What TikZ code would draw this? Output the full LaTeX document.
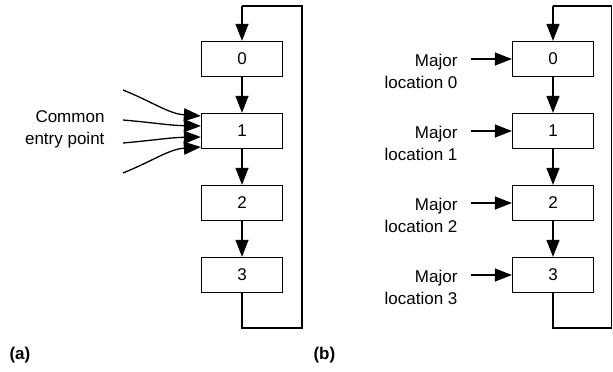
\documentclass[tikz,border=0pt]{standalone}
\usepackage{fontspec}
\setmainfont{Liberation Sans}
\usetikzlibrary{arrows.meta}
\begin{document}
\begin{tikzpicture}[x=1pt,y=1pt,
  every node/.style={font=\fontsize{17}{22}\selectfont},
  stage/.style={draw,line width=1.3pt,minimum width=81pt,minimum height=35pt,inner sep=0pt},
  flow/.style={line width=1.3pt,arrows={-Triangle[length=17pt,width=13pt]}},
  plain/.style={line width=1.3pt},
  caption/.style={font=\fontsize{17}{22}\selectfont\bfseries,anchor=west}]
\useasboundingbox (0,0) rectangle (613,372);

% ---------- (a) ----------
\node[stage] (a0) at (242,313) {0};
\node[stage] (a1) at (242,241) {1};
\node[stage] (a2) at (242,169) {2};
\node[stage] (a3) at (242,97) {3};
\draw[flow] (a0) -- (a1);
\draw[flow] (a1) -- (a2);
\draw[flow] (a2) -- (a3);
\coordinate (aBot) at (242,44);
\coordinate (aTop) at (242,366);
\draw[plain] (a3.south) -- (aBot) -- (302,44) -- (302,366) -- (aTop);
\draw[flow] (aTop) -- (a0.north);

\node[align=right,anchor=east] (entry) at (108,243) {Common\\entry point};
\coordinate (e1) at (123,282);
\coordinate (e2) at (123,252);
\coordinate (e3) at (123,229);
\coordinate (e4) at (123,199);
\draw[flow] (e1) to[out=-22,in=176] ([yshift=15pt]a1.west);
\draw[flow] (e2) to[out=-5,in=179] ([yshift=5pt]a1.west);
\draw[flow] (e3) to[out=5,in=181] ([yshift=-6pt]a1.west);
\draw[flow] (e4) to[out=22,in=184] ([yshift=-16pt]a1.west);

\node[caption] (capa) at (6,17) {(a)};

% ---------- (b) ----------
\node[stage] (b0) at (553,313) {0};
\node[stage] (b1) at (553,241) {1};
\node[stage] (b2) at (553,169) {2};
\node[stage] (b3) at (553,97) {3};
\draw[flow] (b0) -- (b1);
\draw[flow] (b1) -- (b2);
\draw[flow] (b2) -- (b3);
\coordinate (bBot) at (553,44);
\coordinate (bTop) at (553,366);
\draw[plain] (b3.south) -- (bBot) -- (611.7,44) -- (611.7,366) -- (bTop);
\draw[flow] (bTop) -- (b0.north);

\foreach \i/\y in {0/313,1/241,2/169,3/97}{
  \node[align=right,anchor=east] (m\i) at (461,\y-12) {Major\\location \i};
  \coordinate (s\i) at (471,\y);
  \draw[flow] (s\i) -- (b\i.west);
}

\node[caption] (capb) at (310,17) {(b)};
\end{tikzpicture}
\end{document}
